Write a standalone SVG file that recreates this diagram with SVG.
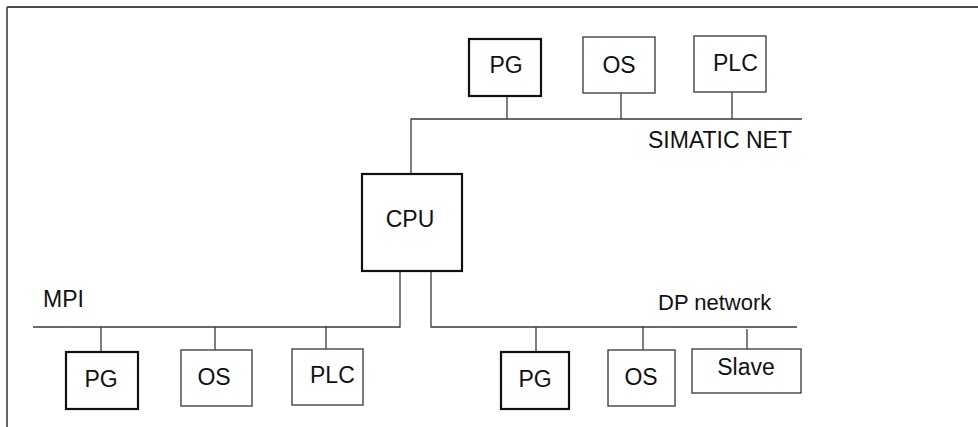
<svg xmlns="http://www.w3.org/2000/svg" width="978" height="427" viewBox="0 0 978 427">
<style>
.bus{stroke:#3a3a3a;stroke-width:1.3;fill:none}
.box{fill:#fff;stroke:#444;stroke-width:1.4}
.thick{fill:#fff;stroke:#111;stroke-width:2.2}
text{font-family:"Liberation Sans",Arial,sans-serif;font-size:23px;fill:#111}
.c{text-anchor:middle}
</style>
<rect width="978" height="427" fill="#fff"/>
<g id="frame">
<line x1="7" y1="7" x2="978" y2="7" stroke="#111" stroke-width="1.6"/>
<line x1="7" y1="7" x2="7" y2="427" stroke="#555" stroke-width="1.8"/>
</g>
<g id="connectors" class="bus">
<polyline points="411,174 411,119 802,119"/>
<line x1="507" y1="96" x2="507" y2="119"/>
<line x1="621" y1="93" x2="621" y2="119"/>
<line x1="732" y1="92" x2="732" y2="119"/>
<polyline points="400,271 400,327 33,327"/>
<line x1="101" y1="327" x2="101" y2="352"/>
<line x1="215" y1="327" x2="215" y2="350"/>
<line x1="326" y1="326" x2="326" y2="349"/>
<polyline points="431,271 431,327 797,327"/>
<line x1="536" y1="327" x2="536" y2="352"/>
<line x1="643" y1="326" x2="643" y2="350"/>
<line x1="747" y1="329" x2="747" y2="349"/>
</g>
<g id="labels">
<text x="792" y="148" style="text-anchor:end">SIMATIC NET</text>
<text x="43" y="307">MPI</text>
<text x="658" y="310" style="font-size:22px">DP network</text>
</g>
<g id="cpu"><rect class="thick" x="362" y="174" width="100" height="97"/><text class="c" x="410" y="227">CPU</text></g>
<g id="pg-top"><rect class="thick" x="469" y="39" width="72" height="57"/><text class="c" x="506" y="73">PG</text></g>
<g id="os-top"><rect class="box" x="583" y="37" width="72" height="56"/><text class="c" x="619" y="73">OS</text></g>
<g id="plc-top"><rect class="box" x="694" y="36" width="72" height="56"/><text x="713" y="71">PLC</text></g>
<g id="pg-mpi"><rect class="thick" x="66" y="352" width="72" height="57"/><text class="c" x="101" y="387">PG</text></g>
<g id="os-mpi"><rect class="box" x="181" y="350" width="71" height="56"/><text class="c" x="214" y="385">OS</text></g>
<g id="plc-mpi"><rect class="box" x="292" y="349" width="71" height="56"/><text x="310" y="383">PLC</text></g>
<g id="pg-dp"><rect class="thick" x="501" y="352" width="68" height="57"/><text class="c" x="535" y="387">PG</text></g>
<g id="os-dp"><rect class="box" x="608" y="350" width="67" height="56"/><text class="c" x="641" y="385">OS</text></g>
<g id="slave-dp"><rect class="box" x="692" y="349" width="109" height="44"/><text class="c" x="746" y="375">Slave</text></g>
</svg>
